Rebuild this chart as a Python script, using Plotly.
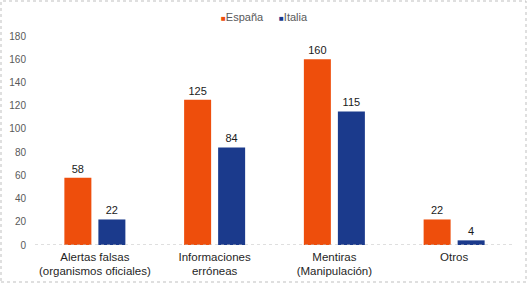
import plotly.graph_objects as go

categories = ["Alertas falsas<br>(organismos oficiales)", "Informaciones<br>erróneas",
              "Mentiras<br>(Manipulación)", "Otros"]
espana = [58, 125, 160, 22]
italia = [22, 84, 115, 4]
y_ticks = [0, 20, 40, 60, 80, 100, 120, 140, 160, 180]
series_names = ["España", "Italia"]
series_colors = ["#EE4E0C", "#1B3A8C"]

W, H = 527, 283
ml, mr, mt, mb = 35, 13, 36, 38
pw, ph = W - ml - mr, H - mt - mb

fig = go.Figure()
for name, vals, col in zip(series_names, [espana, italia], series_colors):
    fig.add_trace(go.Bar(name=name, x=categories, y=vals, marker_color=col,
                         marker_line_width=0,
                         text=vals, textposition="outside",
                         textfont=dict(size=11, color="#1a1a1a")))

# legend drawn as text (Excel-style compact legend)
legend_items = [(219, series_names[0], series_colors[0]), (277, series_names[1], series_colors[1])]
annotations = []
for px, name, col in legend_items:
    annotations.append(dict(
        xref="paper", yref="paper", x=(px - ml) / pw, y=1 + (mt - 17) / ph,
        xanchor="left", yanchor="middle", showarrow=False,
        text=f"<span style='color:{col};font-size:8px'>■</span>{name}",
        font=dict(size=11, color="#595959")))

fig.update_layout(
    width=W, height=H,
    margin=dict(l=ml, r=mr, t=mt, b=mb, autoexpand=False),
    paper_bgcolor="white", plot_bgcolor="white",
    font=dict(family="Liberation Sans, Arial, sans-serif", size=11, color="#595959"),
    barmode="group", bargap=0.432, bargroupgap=0.206,
    showlegend=False,
    annotations=annotations,
    xaxis=dict(showline=False, ticks="", tickfont=dict(size=11.5, color="#1f1f1f"),
               showgrid=False, automargin=False, ticklabelstandoff=3),
    yaxis=dict(range=[0, 180], tickvals=y_ticks, showgrid=False, zeroline=False,
               showline=False, ticks="", tickfont=dict(size=10, color="#595959"),
               ticklabelstandoff=8, automargin=False),
    shapes=[
        dict(type="line", xref="paper", yref="y", x0=0, x1=1, y0=0, y1=0,
             line=dict(color="#BFBFBF", width=1, dash="dot")),
        dict(type="rect", xref="paper", yref="paper",
             x0=(1 - ml) / pw, x1=(W - ml - 1) / pw,
             y0=-(mb - 1) / ph, y1=(H - mb - 1) / ph,
             line=dict(color="#BFBFBF", width=1, dash="dot")),
    ],
)
fig.update_traces(cliponaxis=False)

fig.write_html("out.html", config={"displayModeBar": False},
               post_script="document.body.style.margin='0';")
